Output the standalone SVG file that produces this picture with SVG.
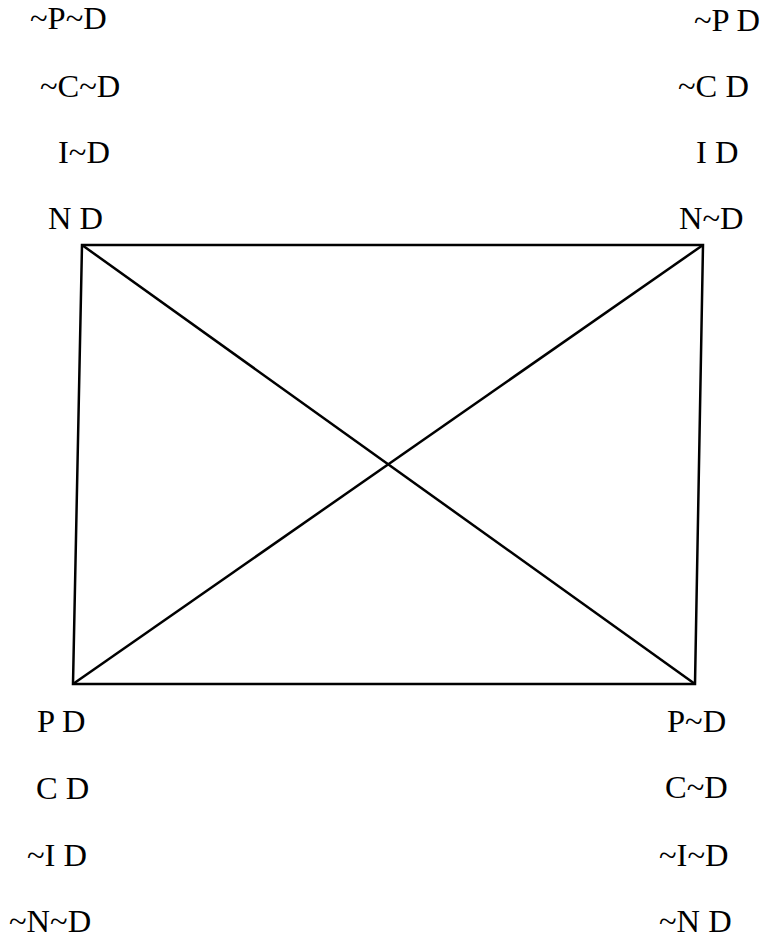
<svg xmlns="http://www.w3.org/2000/svg" width="764" height="939" viewBox="0 0 764 939">
<style>
text{font-family:"Liberation Serif","Times New Roman",serif;font-size:32.5px;fill:#000}
.e{fill:none;stroke:#000;stroke-width:2.5;stroke-linejoin:miter}
</style>
<rect width="764" height="939" fill="#fff"/>
<g id="edges">
<polygon class="e" points="82,245 703,245 695,684 73,684"/>
<line class="e" x1="82" y1="245" x2="695" y2="684"/>
<line class="e" x1="703" y1="245" x2="73" y2="684"/>
</g>
<g id="labels-top-left">
<text x="30" y="29">~P~D</text>
<text x="40" y="97">~C~D</text>
<text x="58" y="163">I~D</text>
<text x="48" y="229">N D</text>
</g>
<g id="labels-top-right">
<text x="694" y="31">~P D</text>
<text x="678" y="97">~C D</text>
<text x="696" y="163">I D</text>
<text x="679" y="229">N~D</text>
</g>
<g id="labels-bottom-left">
<text x="37" y="732">P D</text>
<text x="36" y="799">C D</text>
<text x="27" y="866">~I D</text>
<text x="9" y="932">~N~D</text>
</g>
<g id="labels-bottom-right">
<text x="667" y="732">P~D</text>
<text x="665" y="798">C~D</text>
<text x="659" y="866">~I~D</text>
<text x="659" y="932">~N D</text>
</g>
</svg>
